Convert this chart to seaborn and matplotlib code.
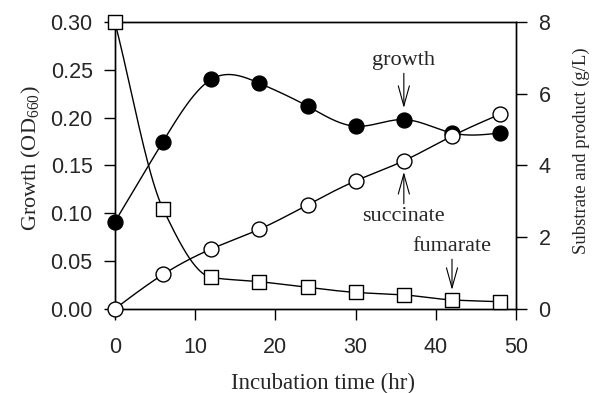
import numpy as np
import pandas as pd
import matplotlib
matplotlib.use("Agg")
import matplotlib.pyplot as plt
import seaborn as sns

# ---- data ----
time_hr = [0, 6, 12, 18, 24, 30, 36, 42, 48]
growth_od = [0.091, 0.175, 0.240, 0.236, 0.212, 0.191, 0.198, 0.184, 0.184]
succinate_gl = [0.0, 0.96, 1.67, 2.22, 2.90, 3.57, 4.13, 4.82, 5.43]
fumarate_gl = [8.0, 2.79, 0.88, 0.76, 0.60, 0.46, 0.39, 0.25, 0.20]

x_ticks = [0, 10, 20, 30, 40, 50]
left_ticks = [0.00, 0.05, 0.10, 0.15, 0.20, 0.25, 0.30]
right_ticks = [0, 2, 4, 6, 8]


def natural_spline(x, y, n=400):
    x = np.asarray(x, float); y = np.asarray(y, float)
    k = len(x); h = np.diff(x)
    A = np.zeros((k, k)); b = np.zeros(k)
    A[0, 0] = A[-1, -1] = 1
    for i in range(1, k - 1):
        A[i, i - 1] = h[i - 1]; A[i, i] = 2 * (h[i - 1] + h[i]); A[i, i + 1] = h[i]
        b[i] = 3 * ((y[i + 1] - y[i]) / h[i] - (y[i] - y[i - 1]) / h[i - 1])
    c = np.linalg.solve(A, b)
    xs = np.linspace(x[0], x[-1], n)
    idx = np.clip(np.searchsorted(x, xs) - 1, 0, k - 2)
    dx = xs - x[idx]
    bb = (y[1:] - y[:-1]) / h - h * (2 * c[:-1] + c[1:]) / 3
    d = (c[1:] - c[:-1]) / (3 * h)
    ys = y[idx] + bb[idx] * dx + c[idx] * dx ** 2 + d[idx] * dx ** 3
    return xs, ys


def pchip(x, y, n=400):
    x = np.asarray(x, float); y = np.asarray(y, float)
    h = np.diff(x); delta = np.diff(y) / h
    m = np.zeros_like(y)
    for i in range(1, len(x) - 1):
        if delta[i - 1] * delta[i] > 0:
            w1 = 2 * h[i] + h[i - 1]; w2 = h[i] + 2 * h[i - 1]
            m[i] = (w1 + w2) / (w1 / delta[i - 1] + w2 / delta[i])
    m[0] = delta[0]; m[-1] = delta[-1]
    xs = np.linspace(x[0], x[-1], n)
    idx = np.clip(np.searchsorted(x, xs) - 1, 0, len(x) - 2)
    t = (xs - x[idx]) / h[idx]
    h00 = 2 * t**3 - 3 * t**2 + 1; h10 = t**3 - 2 * t**2 + t
    h01 = -2 * t**3 + 3 * t**2; h11 = t**3 - t**2
    ys = h00 * y[idx] + h10 * h[idx] * m[idx] + h01 * y[idx + 1] + h11 * h[idx] * m[idx + 1]
    return xs, ys


sns.set_style("ticks")
plt.rcParams["font.family"] = ["Liberation Sans", "DejaVu Sans"]
plt.rcParams["mathtext.fontset"] = "custom"
plt.rcParams["mathtext.rm"] = "Liberation Serif"
plt.rcParams["mathtext.it"] = "Liberation Serif:italic"

fig = plt.figure(figsize=(5.92, 3.93), dpi=100)
ax = fig.add_axes([0.194, 0.214, 0.678, 0.730])
ax2 = ax.twinx()

df = pd.DataFrame({"t": time_hr, "g": growth_od, "s": succinate_gl, "f": fumarate_gl})

gx, gy = natural_spline(time_hr, growth_od)
sx, sy = natural_spline(time_hr, succinate_gl)
fx, fy = pchip(time_hr, fumarate_gl)

lw = 1.0
sns.lineplot(x=gx, y=gy, ax=ax, color="black", lw=lw, zorder=2)
sns.lineplot(x=sx, y=sy, ax=ax2, color="black", lw=lw, zorder=2)
sns.lineplot(x=fx, y=fy, ax=ax2, color="black", lw=lw, zorder=2)

sns.scatterplot(data=df, x="t", y="g", ax=ax, marker="o", s=115, color="black",
                edgecolor="black", linewidth=1, zorder=3, clip_on=False)
sns.scatterplot(data=df, x="t", y="s", ax=ax2, marker="o", s=115, color="white",
                edgecolor="black", linewidth=1, zorder=3, clip_on=False)
sns.scatterplot(data=df, x="t", y="f", ax=ax2, marker="s", s=95, color="white",
                edgecolor="black", linewidth=1, zorder=3, clip_on=False)

ax.set_xlim(0, 50)
ax.set_ylim(0, 0.30)
ax2.set_ylim(0, 8)
ax.set_xticks(x_ticks)
ax.set_yticks(left_ticks)
ax.set_yticklabels([f"{v:.2f}" for v in left_ticks])
ax2.set_yticks(right_ticks)
ax2.set_yticklabels([str(v) for v in right_ticks])

for a in (ax, ax2):
    a.tick_params(labelsize=15.5, length=8, width=1, color="black", pad=8)
    for sp in a.spines.values():
        sp.set_visible(True)
        sp.set_linewidth(1)
        sp.set_color("black")
ax.tick_params(axis="x", pad=12)

serif = ["Liberation Serif", "DejaVu Serif"]
ax.set_xlabel("Incubation time (hr)", fontsize=16.5, family=serif, labelpad=11)
ax.set_ylabel(r"Growth (OD$_{\mathit{660}}$)", fontsize=16, family=serif, labelpad=5)
ax2.set_ylabel("Substrate and product (g/L)", fontsize=13.5, family=serif, labelpad=16)
ax.xaxis.label.set_x(0.519)
ax.yaxis.label.set_y(0.526)
ax2.yaxis.label.set_y(0.55)

arrow = dict(arrowstyle="->,head_length=0.9,head_width=0.25", color="black", lw=0.8,
             shrinkA=0, shrinkB=0)
ax2.annotate("growth", xy=(36, (309 - 108) / 287 * 8), xytext=(36, (309 - 70) / 287 * 8),
             ha="center", va="bottom", fontsize=16, family=serif, arrowprops=arrow)
ax2.annotate("succinate", xy=(36, (309 - 172) / 287 * 8), xytext=(36, (309 - 207) / 287 * 8),
             ha="center", va="top", fontsize=16, family=serif, arrowprops=arrow)
ax2.annotate("fumarate", xy=(42, (309 - 290) / 287 * 8), xytext=(42, (309 - 256) / 287 * 8),
             ha="center", va="bottom", fontsize=16, family=serif, arrowprops=arrow)

fig.savefig("out.png", dpi=100)
